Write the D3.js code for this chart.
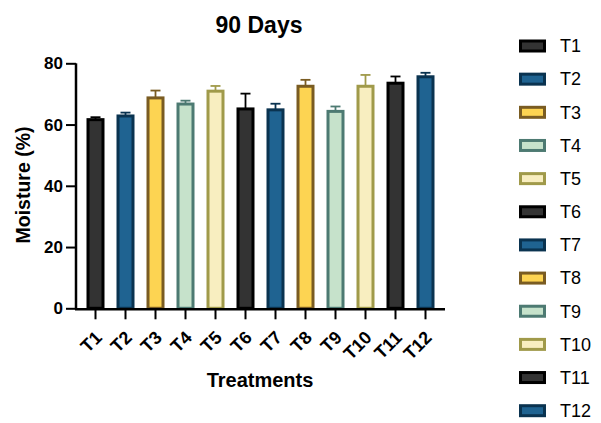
<!DOCTYPE html>
<html><head><meta charset="utf-8">
<script src="https://cdn.jsdelivr.net/npm/d3@7"></script>
<style>body{margin:0;background:#fff}svg{display:block}text{font-family:"Liberation Sans",Arial,sans-serif}</style>
</head><body><svg id="c" width="601" height="423"></svg>
<script>
const categories = ["T1","T2","T3","T4","T5","T6","T7","T8","T9","T10","T11","T12"];
const means = [61.6,62.8,68.7,66.7,70.9,65.1,64.8,72.5,64.3,72.5,73.5,75.6];
const errors = [0.8,1.1,2.4,1.1,1.7,5.0,2.0,2.1,1.6,3.7,2.2,1.3];
const fills = ["#333333","#1f6391","#fdd452","#c6e2cb","#f8eec0","#333333","#1f6391","#fdd452","#c6e2cb","#f8eec0","#333333","#1f6391"];
const strokes = ["#000000","#0a3350","#7a5c22","#4d7a72","#a09a4a","#000000","#0a3350","#7a5c22","#4d7a72","#a09a4a","#000000","#0a3350"];
const yTicks = [0,20,40,60,80];

const svg = d3.select("#c");
const x = d3.scaleBand().domain(categories).range([76,445]).paddingInner(0.4).paddingOuter(0.35);
const y = d3.scaleLinear().domain([0,80]).range([308.3,63.3]);
const bw = x.bandwidth();

// error bars
const eg = svg.append("g");
categories.forEach((c,i)=>{
  const cx = x(c)+bw/2;
  eg.append("line").attr("x1",cx).attr("x2",cx).attr("y1",y(means[i])).attr("y2",y(means[i]+errors[i]))
    .attr("stroke",strokes[i]).attr("stroke-width",1.8);
  eg.append("line").attr("x1",cx-5).attr("x2",cx+5).attr("y1",y(means[i]+errors[i])).attr("y2",y(means[i]+errors[i]))
    .attr("stroke",strokes[i]).attr("stroke-width",1.8);
});
// bars
svg.append("g").selectAll("rect").data(categories).join("rect")
  .attr("x",d=>x(d)+1.5).attr("width",bw-3)
  .attr("y",(d,i)=>y(means[i])).attr("height",(d,i)=>y(0)-y(means[i]))
  .attr("fill",(d,i)=>fills[i]).attr("stroke",(d,i)=>strokes[i]).attr("stroke-width",3);

// y axis
const ya = svg.append("g").attr("transform","translate(76,0)")
  .call(d3.axisLeft(y).tickValues(yTicks).tickSize(10).tickPadding(3));
ya.select(".domain").attr("stroke-width",2.5).attr("d","M0,"+y(80)+"V"+(y(0)+1));
ya.selectAll(".tick line").attr("stroke-width",2);
ya.selectAll("text").attr("font-size",17).attr("font-weight","bold").attr("fill","#000")
  .style("font-family","'Liberation Sans',Arial,sans-serif");

// x axis
const xa = svg.append("g").attr("transform","translate(0,309.3)")
  .call(d3.axisBottom(x).tickSize(10).tickSizeOuter(0));
xa.select(".domain").attr("stroke-width",2.5).attr("d","M75,0H445");
xa.selectAll(".tick line").attr("stroke-width",2);
xa.selectAll("text").attr("font-size",18).attr("font-weight","bold").attr("fill","#000")
  .style("font-family","'Liberation Sans',Arial,sans-serif")
  .attr("text-anchor","end").attr("dy","0.35em").attr("y",0)
  .attr("transform","translate(3,25) rotate(-45)");

// titles
svg.append("text").attr("x",259).attr("y",32.5).attr("text-anchor","middle")
  .attr("font-size",23).attr("font-weight","bold").text("90 Days");
svg.append("text").attr("x",260).attr("y",387).attr("text-anchor","middle")
  .attr("font-size",20).attr("font-weight","bold").text("Treatments");
svg.append("text").attr("transform","translate(30,185) rotate(-90)").attr("text-anchor","middle")
  .attr("font-size",19.5).attr("font-weight","bold").text("Moisture (%)");

// legend
const ly = d3.scalePoint().domain(categories).range([46,410.7]);
const lg = svg.append("g").selectAll("g").data(categories).join("g")
  .attr("transform",d=>"translate(0,"+ly(d)+")");
lg.append("rect").attr("x",520.5).attr("y",-5).attr("width",24).attr("height",10)
  .attr("fill",(d,i)=>fills[i]).attr("stroke",(d,i)=>strokes[i]).attr("stroke-width",3);
lg.append("text").attr("x",560).attr("dy","0.35em").attr("font-size",18).text(d=>d);
</script></body></html>
